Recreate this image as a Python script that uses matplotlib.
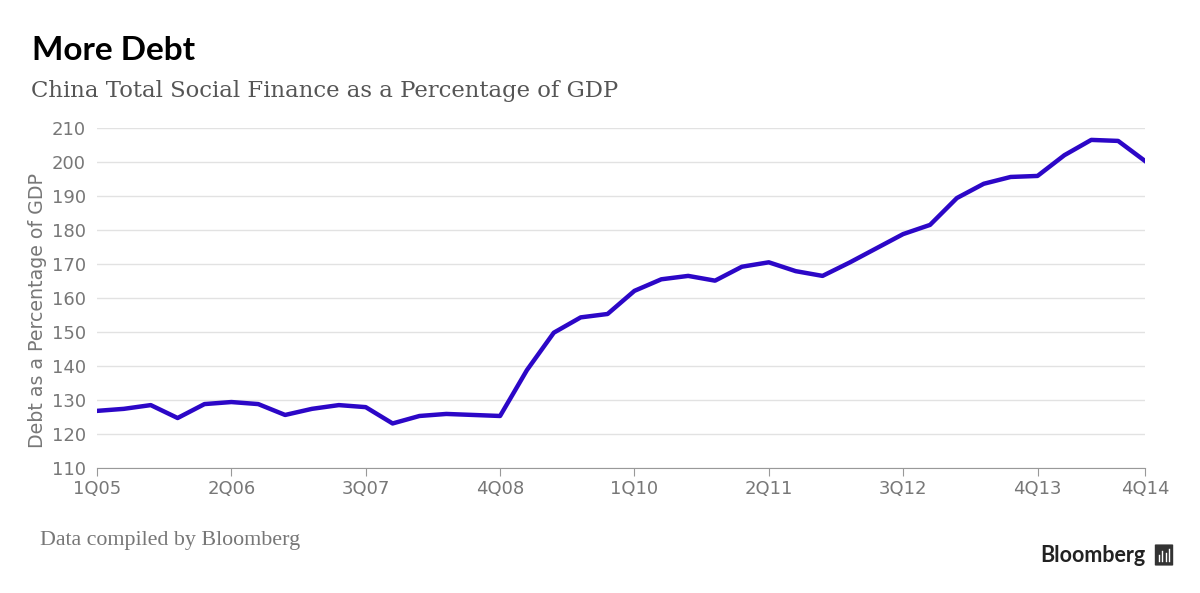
import matplotlib.pyplot as plt
from matplotlib.patches import FancyBboxPatch
import numpy as np

# quarterly debt / GDP, 1Q05 .. 4Q14
quarters = [f"{q}Q{y:02d}" for y in range(5, 15) for q in range(1, 5)]
debt_pct = [126.8, 127.4, 128.5, 124.7, 128.8, 129.4, 128.8, 125.6, 127.4, 128.5,
            127.9, 123.1, 125.3, 125.9, 125.6, 125.3, 138.8, 149.8, 154.3, 155.3,
            162.1, 165.5, 166.5, 165.1, 169.2, 170.5, 167.9, 166.5, 170.4, 174.6,
            178.8, 181.5, 189.4, 193.6, 195.6, 195.9, 202.0, 206.5, 206.2, 200.3]
tick_labels = ["1Q05", "2Q06", "3Q07", "4Q08", "1Q10", "2Q11", "3Q12", "4Q13", "4Q14"]
y_ticks = list(range(110, 211, 10))

grey = "#777777"
fig = plt.figure(figsize=(12, 5.93), dpi=100)
ax = fig.add_axes([97 / 1200, 125 / 593, 1048 / 1200, 340 / 593])

x = np.arange(len(quarters))
ax.plot(x, debt_pct, color="#2c07c7", lw=3.2, solid_joinstyle="round", zorder=3)

ax.set_xlim(0, len(quarters) - 1)
ax.set_ylim(110, 210)
ax.set_yticks(y_ticks)
ax.set_xticks([quarters.index(t) for t in tick_labels])
ax.set_xticklabels(tick_labels)
ax.grid(axis="y", color="#e2e2e2", lw=1)
ax.set_axisbelow(True)
for s in ["top", "right", "left"]:
    ax.spines[s].set_visible(False)
ax.spines["bottom"].set_color("#999999")
ax.tick_params(axis="y", length=0, pad=8, labelsize=13, labelcolor=grey)
ax.tick_params(axis="x", length=6, color="#999999", pad=3, labelsize=13, labelcolor=grey)
ax.set_ylabel("Debt as a Percentage of GDP", fontsize=13.7, color=grey)
ax.yaxis.set_label_coords(-0.048, 0.462)

fig.text(32 / 1200, 1 - 50 / 593, "More Debt", fontsize=24, fontweight="bold",
         family="Lato", va="center", color="black")
fig.text(31 / 1200, 1 - 91 / 593, "China Total Social Finance as a Percentage of GDP",
         fontsize=16.4, family="DejaVu Serif", va="center", color="#555555")
fig.text(40 / 1200, 1 - 540 / 593, "Data compiled by Bloomberg", fontsize=15.8,
         family="Liberation Serif", va="center", color=grey)
fig.text(1145 / 1200, 1 - 555 / 593, "Bloomberg", fontsize=15.5, fontweight="bold",
         family="Lato", ha="right", va="center", color="#222222")

# small logo box
fig.patches.append(FancyBboxPatch((1156 / 1200, 1 - 565 / 593), 16 / 1200, 20 / 593,
                                  boxstyle="round,pad=0.001", transform=fig.transFigure,
                                  fc="#333333", ec="none"))
for i, h in enumerate([6, 10, 8, 12]):
    fig.lines.append(plt.Line2D([(1159 + i * 3.3) / 1200] * 2,
                                [1 - 561 / 593, 1 - (561 - h) / 593],
                                transform=fig.transFigure, color="white", lw=1))

fig.savefig("out.png", dpi=100, facecolor="white")
